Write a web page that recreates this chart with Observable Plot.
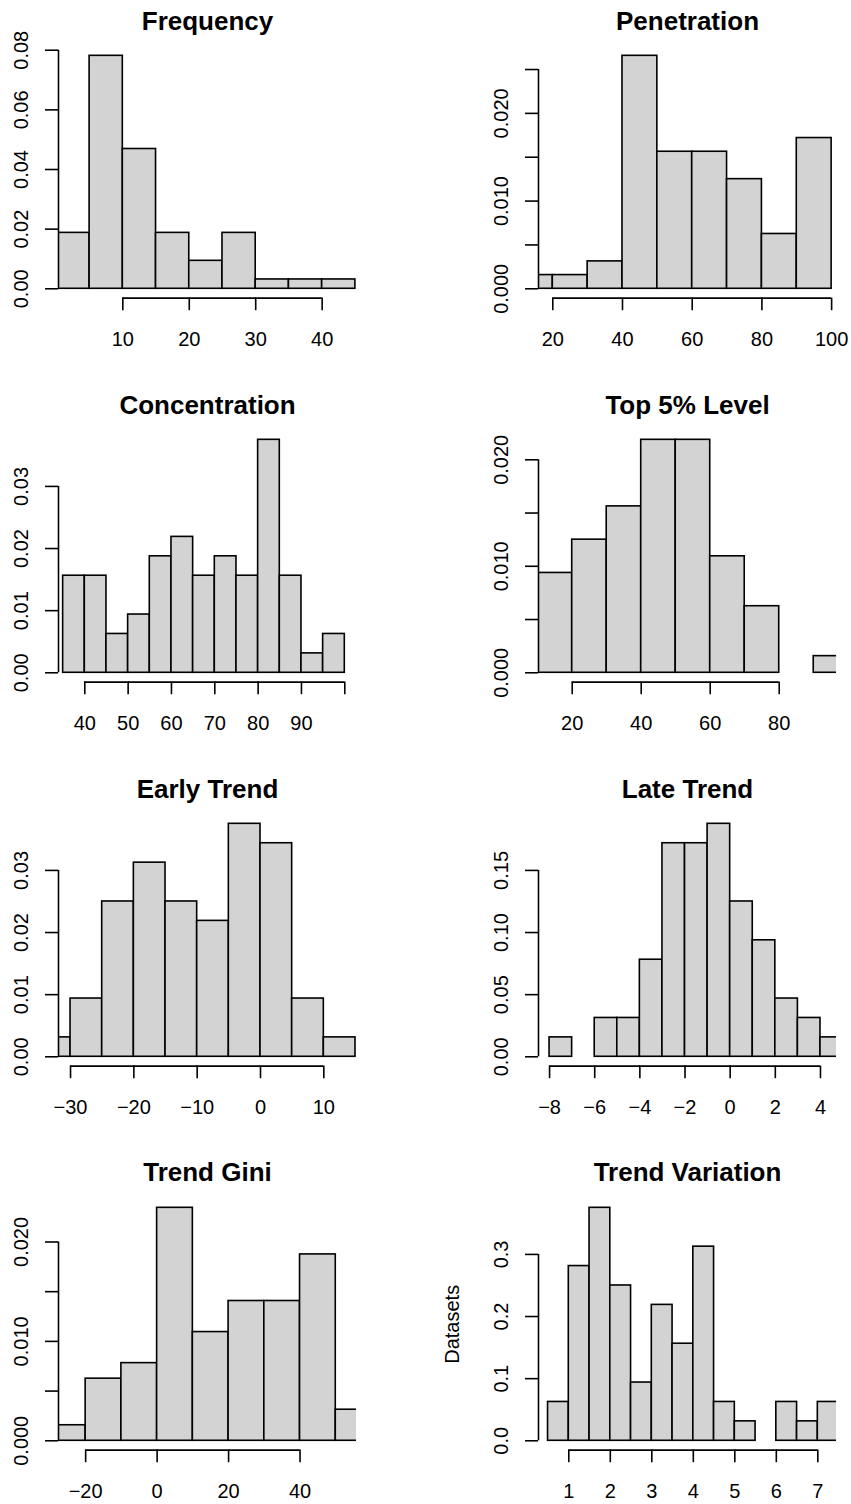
<!DOCTYPE html>
<html>
<head>
<meta charset="utf-8">
<script src="https://cdn.jsdelivr.net/npm/d3@7"></script>
<script src="https://cdn.jsdelivr.net/npm/@observablehq/plot@0.6"></script>
<style>
  body { margin: 0; background: #fff; }
  #wrap { position: relative; width: 851px; height: 1504px; overflow: hidden; background: #fff; }
  #wrap svg { position: absolute; }
</style>
</head>
<body>
<div id="wrap"></div>
<script>
// ---------- data ----------
const titles = ["Frequency", "Penetration", "Concentration", "Top 5% Level",
                "Early Trend", "Late Trend", "Trend Gini", "Trend Variation"];

const frequencyBreaks  = [0, 5, 10, 15, 20, 25, 30, 35, 40, 45];
const frequencyDensity = [0.01875, 0.078125, 0.046875, 0.01875, 0.009375, 0.01875, 0.003125, 0.003125, 0.003125];
const frequencyView    = [0.32, 45.17];
const frequencyXTicks  = [10, 20, 30, 40];
const frequencyXLabels = ["10", "20", "30", "40"];
const frequencyYTicks  = [0, 0.02, 0.04, 0.06, 0.08];
const frequencyYLabels = ["0.00", "0.02", "0.04", "0.06", "0.08"];

const penetrationBreaks  = [10, 20, 30, 40, 50, 60, 70, 80, 90, 100];
const penetrationDensity = [0.0015625, 0.0015625, 0.003125, 0.0265625, 0.015625, 0.015625, 0.0125, 0.00625, 0.0171875];
const penetrationView    = [15.9, 101.4];
const penetrationXTicks  = [20, 40, 60, 80, 100];
const penetrationXLabels = ["20", "40", "60", "80", "100"];
const penetrationYTicks  = [0, 0.005, 0.01, 0.015, 0.02, 0.025];
const penetrationYLabels = ["0.000", "", "0.010", "", "0.020", ""];

const concentrationBreaks  = [35, 40, 45, 50, 55, 60, 65, 70, 75, 80, 85, 90, 95, 100];
const concentrationDensity = [0.015625, 0.015625, 0.00625, 0.009375, 0.01875, 0.021875, 0.015625, 0.01875, 0.015625, 0.0375, 0.015625, 0.003125, 0.00625];
const concentrationView    = [33.93, 102.7];
const concentrationXTicks  = [40, 50, 60, 70, 80, 90, 100];
const concentrationXLabels = ["40", "50", "60", "70", "80", "90", ""];
const concentrationYTicks  = [0, 0.01, 0.02, 0.03];
const concentrationYLabels = ["0.00", "0.01", "0.02", "0.03"];

const top5Breaks  = [10, 20, 30, 40, 50, 60, 70, 80, 90, 100];
const top5Density = [0.009375, 0.0125, 0.015625, 0.021875, 0.021875, 0.0109375, 0.00625, 0, 0.0015625];
const top5View    = [10.23, 96.6];
const top5XTicks  = [20, 40, 60, 80];
const top5XLabels = ["20", "40", "60", "80"];
const top5YTicks  = [0, 0.005, 0.01, 0.015, 0.02];
const top5YLabels = ["0.000", "", "0.010", "", "0.020"];

const earlyBreaks  = [-35, -30, -25, -20, -15, -10, -5, 0, 5, 10, 15];
const earlyDensity = [0.003125, 0.009375, 0.025, 0.03125, 0.025, 0.021875, 0.0375, 0.034375, 0.009375, 0.003125];
const earlyView    = [-31.9, 15.16];
const earlyXTicks  = [-30, -20, -10, 0, 10];
const earlyXLabels = ["\u221230", "\u221220", "\u221210", "0", "10"];
const earlyYTicks  = [0, 0.01, 0.02, 0.03];
const earlyYLabels = ["0.00", "0.01", "0.02", "0.03"];

const lateBreaks  = [-8, -7, -6, -5, -4, -3, -2, -1, 0, 1, 2, 3, 4, 5];
const lateDensity = [0.015625, 0, 0.03125, 0.03125, 0.078125, 0.171875, 0.171875, 0.1875, 0.125, 0.09375, 0.046875, 0.03125, 0.015625];
const lateView    = [-8.49, 4.71];
const lateXTicks  = [-8, -6, -4, -2, 0, 2, 4];
const lateXLabels = ["\u22128", "\u22126", "\u22124", "\u22122", "0", "2", "4"];
const lateYTicks  = [0, 0.05, 0.1, 0.15];
const lateYLabels = ["0.00", "0.05", "0.10", "0.15"];

const giniBreaks  = [-30, -20, -10, 0, 10, 20, 30, 40, 50, 60];
const giniDensity = [0.0015625, 0.00625, 0.0078125, 0.0234375, 0.0109375, 0.0140625, 0.0140625, 0.01875, 0.003125];
const giniView    = [-27.6, 55.8];
const giniXTicks  = [-20, 0, 20, 40];
const giniXLabels = ["\u221220", "0", "20", "40"];
const giniYTicks  = [0, 0.005, 0.01, 0.015, 0.02];
const giniYLabels = ["0.000", "", "0.010", "", "0.020"];

const variationBreaks  = [0.5, 1, 1.5, 2, 2.5, 3, 3.5, 4, 4.5, 5, 5.5, 6, 6.5, 7, 7.5];
const variationDensity = [0.0625, 0.28125, 0.375, 0.25, 0.09375, 0.21875, 0.15625, 0.3125, 0.0625, 0.03125, 0, 0.0625, 0.03125, 0.0625];
const variationView    = [0.27, 7.45];
const variationXTicks  = [1, 2, 3, 4, 5, 6, 7];
const variationXLabels = ["1", "2", "3", "4", "5", "6", "7"];
const variationYTicks  = [0, 0.1, 0.2, 0.3];
const variationYLabels = ["0.0", "0.1", "0.2", "0.3"];
const variationYTitle  = "Datasets";

// ---------- assemble ----------
const panels = [
  {breaks: frequencyBreaks, density: frequencyDensity, view: frequencyView, xt: frequencyXTicks, xl: frequencyXLabels, yt: frequencyYTicks, yl: frequencyYLabels},
  {breaks: penetrationBreaks, density: penetrationDensity, view: penetrationView, xt: penetrationXTicks, xl: penetrationXLabels, yt: penetrationYTicks, yl: penetrationYLabels},
  {breaks: concentrationBreaks, density: concentrationDensity, view: concentrationView, xt: concentrationXTicks, xl: concentrationXLabels, yt: concentrationYTicks, yl: concentrationYLabels},
  {breaks: top5Breaks, density: top5Density, view: top5View, xt: top5XTicks, xl: top5XLabels, yt: top5YTicks, yl: top5YLabels},
  {breaks: earlyBreaks, density: earlyDensity, view: earlyView, xt: earlyXTicks, xl: earlyXLabels, yt: earlyYTicks, yl: earlyYLabels},
  {breaks: lateBreaks, density: lateDensity, view: lateView, xt: lateXTicks, xl: lateXLabels, yt: lateYTicks, yl: lateYLabels},
  {breaks: giniBreaks, density: giniDensity, view: giniView, xt: giniXTicks, xl: giniXLabels, yt: giniYTicks, yl: giniYLabels},
  {breaks: variationBreaks, density: variationDensity, view: variationView, xt: variationXTicks, xl: variationXLabels, yt: variationYTicks, yl: variationYLabels, ytitle: variationYTitle}
];

const FONT = "'Liberation Sans', Arial, Helvetica, sans-serif";
const LW = 1.6;
const rowFrameTops = [46, 429.5, 813.8, 1197.7];
const frameH = 251.6;
const TOTAL_H = 1504;

const wrap = document.getElementById("wrap");

panels.forEach((p, k) => {
  const row = Math.floor(k / 2), col = k % 2;
  const bins = p.density.map((d, i) => ({x1: p.breaks[i], x2: p.breaks[i + 1], y1: 0, y2: d}));
  const m = d3.max(p.density);
  const ydom = [-0.04 * m, 1.04 * m];
  const svgTop = rowFrameTops[row] - 46;
  const h = Math.min(384, TOTAL_H - svgTop);
  const width = col === 0 ? 425 : 426;
  const ml = col === 0 ? 58 : 113;
  const mr = col === 0 ? 69 : 15;
  const mb = h - 46 - frameH;
  const xLabData = p.xt.map((t, i) => ({v: t, s: p.xl[i]}));
  const yLabData = p.yt.map((t, i) => ({v: t, s: p.yl[i]}));

  const marks = [
    Plot.rect(bins, {x1: "x1", x2: "x2", y1: "y1", y2: "y2", fill: "#D3D3D3", stroke: "black", strokeWidth: LW, clip: true}),
    // y axis: line from first to last tick, outward ticks, rotated labels (R style)
    Plot.ruleX([{x: p.view[0], a: p.yt[0], b: p.yt[p.yt.length - 1]}], {x: "x", y1: "a", y2: "b", stroke: "black", strokeWidth: LW}),
    Plot.axisY(p.yt, {anchor: "left", tickSize: 13, tickFormat: () => "", strokeWidth: LW, stroke: "black", label: null}),
    Plot.text(yLabData, {y: "v", text: "s", frameAnchor: "left", rotate: -90, textAnchor: "middle", lineAnchor: "bottom", dx: -30.5, fontSize: 20, fill: "black"}),
    // x axis at bottom of plot region
    Plot.ruleY([{y: ydom[0], a: p.xt[0], b: p.xt[p.xt.length - 1]}], {y: "y", x1: "a", x2: "b", stroke: "black", strokeWidth: LW}),
    Plot.axisX(p.xt, {anchor: "bottom", tickSize: 12.6, tickFormat: () => "", strokeWidth: LW, stroke: "black", label: null}),
    Plot.text(xLabData, {x: "v", text: "s", frameAnchor: "bottom", textAnchor: "middle", lineAnchor: "top", dy: 33.2, fontSize: 20, fill: "black"}),
    // panel title
    Plot.text([titles[k]], {text: d => d, frameAnchor: "top", textAnchor: "middle", dy: -17, lineAnchor: "bottom", fontSize: 26, fontWeight: "bold", fill: "black"})
  ];
  if (p.ytitle) {
    marks.push(Plot.text([p.ytitle], {text: d => d, frameAnchor: "left", rotate: -90, textAnchor: "middle", lineAnchor: "bottom", dx: -79.7, fontSize: 20, fill: "black"}));
  }

  const chart = Plot.plot({
    width, height: h,
    marginTop: 46, marginBottom: mb, marginLeft: ml, marginRight: mr,
    x: {domain: p.view, label: null},
    y: {domain: ydom, label: null},
    style: {fontFamily: FONT, fontSize: "20px", background: "transparent", color: "black", overflow: "visible"},
    marks
  });
  chart.style.left = (col === 0 ? 0 : 425) + "px";
  chart.style.top = svgTop + "px";
  wrap.appendChild(chart);
});
</script>
</body>
</html>
